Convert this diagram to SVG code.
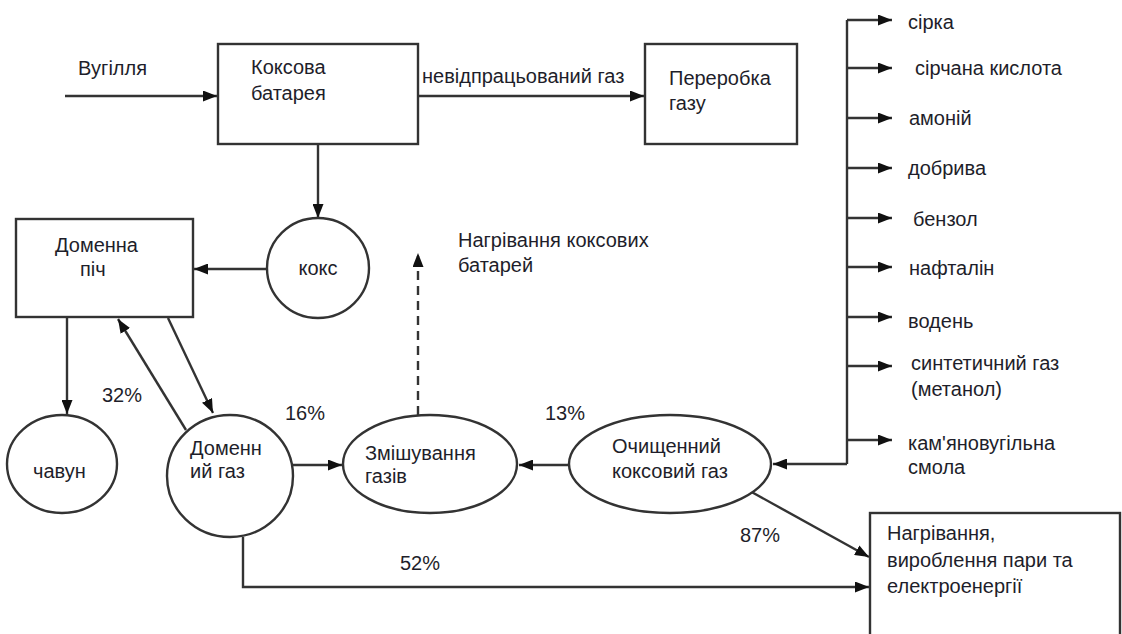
<svg xmlns="http://www.w3.org/2000/svg" width="1122" height="634" viewBox="0 0 1122 634">
<style>
text{font-family:"Liberation Sans",Arial,sans-serif;font-size:20px;fill:#1e1e2a}
.box{fill:#fff;stroke:#333;stroke-width:2.4}
.ln{fill:none;stroke:#333;stroke-width:2.4}
.dash{stroke-dasharray:9,6}
</style>
<defs>
<marker id="ah" viewBox="0 0 14 11" refX="14" refY="5.5" markerWidth="14" markerHeight="11" markerUnits="userSpaceOnUse" orient="auto"><path d="M0,0 L14,5.5 L0,11 z" fill="#111"/></marker>
</defs>
<rect width="1122" height="634" fill="#fff"/>

<g id="connectors">
<path class="ln" d="M65,96 H217" marker-end="url(#ah)"/>
<path class="ln" d="M318,144 V218" marker-end="url(#ah)"/>
<path class="ln" d="M418,96 H644" marker-end="url(#ah)"/>
<path class="ln" d="M267,269 H194" marker-end="url(#ah)"/>
<path class="ln" d="M67,317 V414" marker-end="url(#ah)"/>
<path class="ln" d="M186,430 L118,319" marker-end="url(#ah)"/>
<path class="ln" d="M168,318 L213,413" marker-end="url(#ah)"/>
<path class="ln" d="M293,465 H342" marker-end="url(#ah)"/>
<path class="ln dash" d="M418,415 V253" marker-end="url(#ah)"/>
<path class="ln" d="M569,465 H519" marker-end="url(#ah)"/>
<path class="ln" d="M847,20 V464"/>
<path class="ln" d="M847,464 H773" marker-end="url(#ah)"/>
<path class="ln" d="M847,20 H892" marker-end="url(#ah)"/>
<path class="ln" d="M847,68 H892" marker-end="url(#ah)"/>
<path class="ln" d="M847,118 H892" marker-end="url(#ah)"/>
<path class="ln" d="M847,168 H892" marker-end="url(#ah)"/>
<path class="ln" d="M847,218 H892" marker-end="url(#ah)"/>
<path class="ln" d="M847,267 H892" marker-end="url(#ah)"/>
<path class="ln" d="M847,317 H892" marker-end="url(#ah)"/>
<path class="ln" d="M847,366 H892" marker-end="url(#ah)"/>
<path class="ln" d="M847,440 H892" marker-end="url(#ah)"/>
<path class="ln" d="M748,490 L869,557" marker-end="url(#ah)"/>
<path class="ln" d="M243,537 V587 H869" marker-end="url(#ah)"/>
</g>

<g id="labels">
<text x="78" y="75">Вугілля</text>
<text x="422" y="83">невідпрацьований газ</text>
<text x="458" y="247">Нагрівання коксових</text>
<text x="458" y="272">батарей</text>
<text x="102" y="402">32%</text>
<text x="285" y="420">16%</text>
<text x="545" y="420">13%</text>
<text x="740" y="542">87%</text>
<text x="400" y="570">52%</text>
<text x="908" y="29">сірка</text>
<text x="915" y="75">сірчана кислота</text>
<text x="909" y="125">амоній</text>
<text x="908" y="175">добрива</text>
<text x="913" y="226">бензол</text>
<text x="909" y="275">нафталін</text>
<text x="908" y="328">водень</text>
<text x="911" y="370">синтетичний газ</text>
<text x="911" y="396">(метанол)</text>
<text x="908" y="450">кам'яновугільна</text>
<text x="908" y="474">смола</text>
</g>

<g id="koksova-batareya">
<rect class="box" x="218" y="44" width="200" height="100"/>
<text x="251" y="74">Коксова</text>
<text x="251" y="100">батарея</text>
</g>

<g id="pererobka-gazu">
<rect class="box" x="645" y="44" width="152" height="100"/>
<text x="669" y="85">Переробка</text>
<text x="669" y="110">газу</text>
</g>

<g id="koks">
<ellipse class="box" cx="318" cy="268" rx="51" ry="50"/>
<text x="318" y="275" text-anchor="middle">кокс</text>
</g>

<g id="domenna-pich">
<rect class="box" x="16" y="219" width="177" height="98"/>
<text x="55" y="252">Доменна</text>
<text x="80" y="276">піч</text>
</g>

<g id="chavun">
<ellipse class="box" cx="62" cy="464" rx="55" ry="49"/>
<text x="33" y="478">чавун</text>
</g>

<g id="domennyi-gaz">
<ellipse class="box" cx="230" cy="476" rx="63" ry="61"/>
<text x="190" y="455">Доменн</text>
<text x="190" y="478">ий газ</text>
</g>

<g id="zmishuvannya">
<ellipse class="box" cx="430" cy="464" rx="87" ry="49"/>
<text x="365" y="460">Змішування</text>
<text x="365" y="483">газів</text>
</g>

<g id="ochyshchenyi">
<ellipse class="box" cx="670" cy="464" rx="101" ry="49"/>
<text x="612" y="453">Очищенний</text>
<text x="612" y="478">коксовий газ</text>
</g>

<g id="nagrivannya">
<rect class="box" x="870" y="513" width="250" height="140"/>
<text x="887" y="540">Нагрівання,</text>
<text x="887" y="567">вироблення пари та</text>
<text x="887" y="593">електроенергії</text>
</g>
</svg>
